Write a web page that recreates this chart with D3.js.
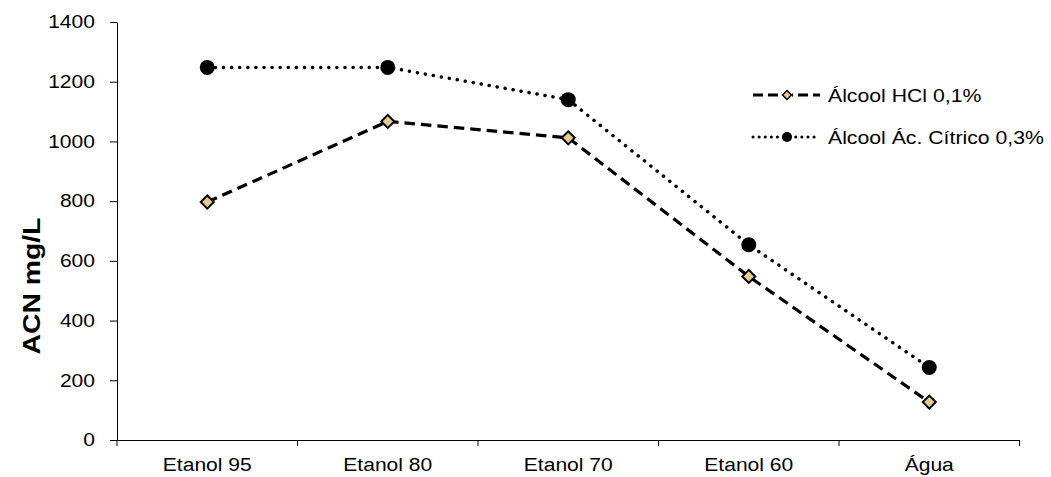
<!DOCTYPE html>
<html>
<head>
<meta charset="utf-8">
<script src="https://cdn.jsdelivr.net/npm/d3@7"></script>
<style>
  body { margin: 0; background: #fff; }
  svg { font-family: "Liberation Sans", Arial, sans-serif; }
</style>
</head>
<body>
<svg width="1051" height="477"></svg>
<script>

const categories = ["Etanol 95", "Etanol 80", "Etanol 70", "Etanol 60", "Água"];
const hcl = [797, 1067, 1012, 548, 127];
const citrico = [1248, 1248, 1140, 654, 243];
const yTicks = [0, 200, 400, 600, 800, 1000, 1200, 1400];
const seriesNames = ["Álcool HCl 0,1%", "Álcool Ác. Cítrico 0,3%"];

const svg = d3.select("svg");

const x = d3.scaleBand().domain(categories).range([117, 1019.5]);
const y = d3.scaleLinear().domain([0, 1400]).range([440, 22]);

// the picture is a bit stretched sideways, text too
const stretch = 1.17;

// y axis
svg.append("g")
  .attr("class", "yaxis")
  .attr("transform", "translate(117,0)")
  .call(d3.axisLeft(y).tickValues(yTicks).tickFormat(d3.format("d")).tickSize(7).tickSizeOuter(0))

svg.selectAll(".yaxis .tick text")
  .attr("x", 0)
  .attr("transform", `translate(-22,0) scale(${stretch},1)`)

// x axis
svg.append("g")
  .attr("class", "xaxis")
  .attr("transform", "translate(0,440)")
  .call(d3.axisBottom(x).tickSize(0).tickSizeOuter(0))

svg.selectAll(".xaxis .tick text")
  .attr("y", 0)
  .attr("dy", 0)
  .attr("transform", `translate(0,31) scale(${stretch},1)`)

// category boundary ticks on x
const bounds = categories.map(d => x(d)).concat([x.range()[1]]);
svg.selectAll(".xtick").data(bounds)
  .enter().append("line")
    .attr("class", "xtick")
    .attr("x1", d => d)
    .attr("x2", d => d)
    .attr("y1", 440)
    .attr("y2", 446)
    .style("stroke", "#000")

svg.selectAll(".domain").style("stroke", "#000")
svg.selectAll(".tick line").style("stroke", "#000")
svg.selectAll(".tick text")
  .style("font-size", "18px")
  .style("fill", "#000")
  .style("font-family", "Liberation Sans, Arial, sans-serif")

// axis title
svg.append("text")
  .attr("transform", `translate(40,286) rotate(-90) scale(1.18,1)`)
  .attr("text-anchor", "middle")
  .style("font-size", "24px")
  .style("font-weight", "bold")
  .text("ACN mg/L")

const cx = d => x(d) + x.bandwidth() / 2;

const line = d3.line()
  .x(d => cx(d.cat))
  .y(d => y(d.v));

const hclData = categories.map((c, i) => ({cat: c, v: hcl[i]}));
const citData = categories.map((c, i) => ({cat: c, v: citrico[i]}));

// dotted series
svg.append("path")
  .datum(citData)
  .attr("d", line)
  .style("fill", "none")
  .style("stroke", "#000")
  .style("stroke-width", 3.5)
  .style("stroke-linecap", "round")
  .style("stroke-dasharray", "0.1 8")

// dashed series
svg.append("path")
  .datum(hclData)
  .attr("d", line)
  .style("fill", "none")
  .style("stroke", "#000")
  .style("stroke-width", 3.2)
  .style("stroke-dasharray", "10.5 6")

const diamond = d3.symbol().type(d3.symbolSquare).size(85);

svg.selectAll(".cit").data(citData)
  .enter().append("circle")
    .attr("class", "cit")
    .attr("cx", d => cx(d.cat))
    .attr("cy", d => y(d.v))
    .attr("r", 7.5)
    .style("fill", "#000")

svg.selectAll(".hcl").data(hclData)
  .enter().append("path")
    .attr("class", "hcl")
    .attr("d", diamond)
    .attr("transform", d => `translate(${cx(d.cat)},${y(d.v)}) rotate(45)`)
    .style("fill", "#e8c98e")
    .style("stroke", "#000")
    .style("stroke-width", 2)

// legend
const legend = svg.append("g");
const legendRows = [
  {name: seriesNames[0], y: 95, dash: "10 5", cap: "butt", marker: "diamond"},
  {name: seriesNames[1], y: 137, dash: "0.1 6", cap: "round", marker: "circle"}
];

legendRows.forEach(r => {
  legend.append("line")
    .attr("x1", 753).attr("x2", 820)
    .attr("y1", r.y).attr("y2", r.y)
    .style("stroke", "#000")
    .style("stroke-width", 3)
    .style("stroke-linecap", r.cap)
    .style("stroke-dasharray", r.dash)
  if (r.marker == "diamond") {
    legend.append("rect")
      .attr("x", 782).attr("y", r.y - 5)
      .attr("width", 10).attr("height", 10)
      .style("fill", "#fff")
    legend.append("path")
      .attr("d", d3.symbol().type(d3.symbolSquare).size(40))
      .attr("transform", `translate(787,${r.y}) rotate(45)`)
      .style("fill", "#e8c98e")
      .style("stroke", "#000")
      .style("stroke-width", 1.5)
  } else {
    legend.append("circle")
      .attr("cx", 787).attr("cy", r.y).attr("r", 5)
      .style("fill", "#000")
  }
  legend.append("text")
    .attr("transform", `translate(828,${r.y + 6.5}) scale(1.18,1)`)
    .style("font-size", "18px")
    .text(r.name)
});

</script>
</body>
</html>
